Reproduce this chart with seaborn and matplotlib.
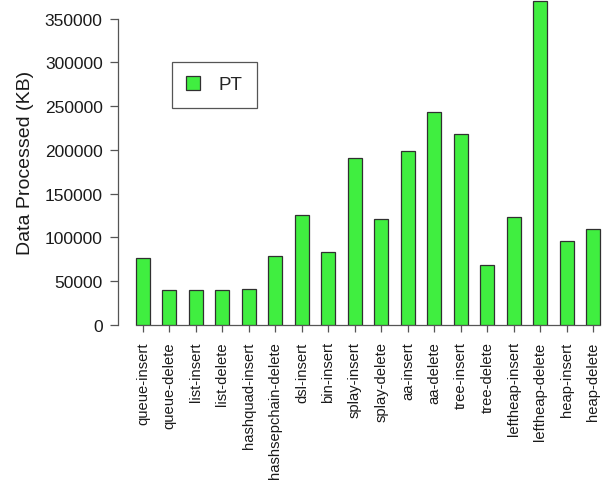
import matplotlib
matplotlib.use("Agg")
import matplotlib.pyplot as plt
import seaborn as sns
import pandas as pd

operations = [
    "queue-insert", "queue-delete", "list-insert", "list-delete",
    "hashquad-insert", "hashsepchain-delete", "dsl-insert", "bin-insert",
    "splay-insert", "splay-delete", "aa-insert", "aa-delete",
    "tree-insert", "tree-delete", "leftheap-insert", "leftheap-delete",
    "heap-insert", "heap-delete",
]
data_kb = [
    76000, 39700, 39700, 39700,
    40800, 78900, 125800, 82800,
    191000, 121300, 198300, 243000,
    218500, 68600, 122800, 370700,
    96100, 109500,
]
yticks = [0, 50000, 100000, 150000, 200000, 250000, 300000, 350000]
series_name = "PT"

df = pd.DataFrame({"operation": operations, "kb": data_kb})

sns.set_style("ticks")
plt.rcParams["font.family"] = ["Liberation Sans", "DejaVu Sans"]

W, H = 607, 485
fig = plt.figure(figsize=(W / 100, H / 100), dpi=100)
ax = fig.add_axes([118 / W, (H - 325.7) / H, (W - 118) / W, 325.7 / H])

sns.barplot(data=df, x="operation", y="kb", color="#40ee40", saturation=1,
            width=0.53, edgecolor="#303030", linewidth=0.9, ax=ax, zorder=3)

n = len(operations)
ax.set_xlim(-0.94, -0.94 + (W - 118) / 26.5)
ax.set_ylim(0, 325.7 * 1144)
ax.set_yticks(yticks)
ax.set_yticklabels([str(v) for v in yticks], fontsize=12.5, color="#1a1a1a")
ax.set_xticks(range(n))
ax.set_xticklabels(operations, rotation=90, fontsize=10.6, color="#1a1a1a")
ax.set_xlabel("")
ax.set_ylabel("Data Processed (KB)", fontsize=14, color="#1a1a1a")
ax.yaxis.set_label_coords((34 - 118) / (W - 118), 0.5)

for side in ("top", "right"):
    ax.spines[side].set_visible(False)
ax.spines["left"].set_bounds(0, 350000)
ax.spines["bottom"].set_bounds(-0.265, n - 1 + 0.265)
for side in ("left", "bottom"):
    ax.spines[side].set_color("#555555")
    ax.spines[side].set_linewidth(0.9)
ax.tick_params(axis="y", length=6, width=0.9, color="#555555", pad=5)
ax.tick_params(axis="x", length=5, width=0.9, color="#555555", pad=7)
ax.patch.set_alpha(0)

leg = ax.legend(handles=[ax.patches[0]], labels=[series_name],
                loc="upper left", bbox_to_anchor=(172 / W, (H - 63) / H),
                bbox_transform=fig.transFigure, fontsize=13.5,
                frameon=True, fancybox=False, framealpha=1,
                handlelength=0.75, handleheight=0.75, handletextpad=1.0,
                borderpad=0.75, borderaxespad=0)
leg.get_frame().set_edgecolor("#555555")
leg.get_frame().set_linewidth(0.9)

fig.savefig("out.png", dpi=100)
